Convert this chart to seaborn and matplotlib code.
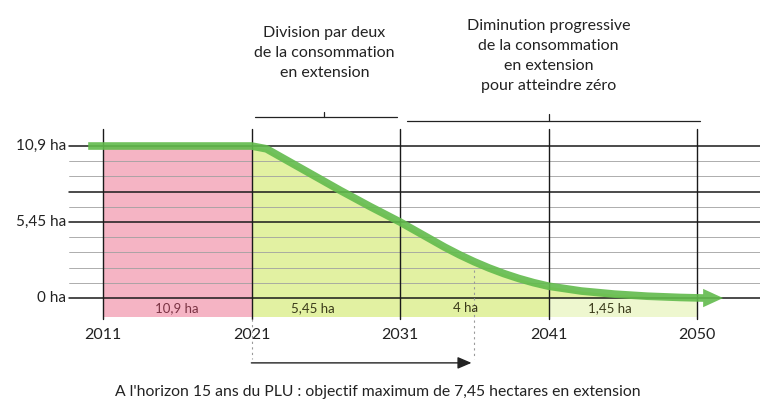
import numpy as np
import matplotlib
matplotlib.use("Agg")
import matplotlib.pyplot as plt
import seaborn as sns

# data
year_ticks = [2011, 2021, 2031, 2041, 2050]
curve_years = [2010, 2021, 2022, 2023, 2025, 2027, 2029, 2031, 2032, 2033, 2034,
               2035, 2036, 2037, 2038, 2039, 2040, 2041, 2043, 2045, 2047, 2049, 2050.4]
curve_ha = [10.9, 10.9, 10.7, 10.1, 8.9, 7.7, 6.55, 5.45, 4.85, 4.25, 3.65,
            3.1, 2.6, 2.15, 1.75, 1.4, 1.1, 0.85, 0.5, 0.28, 0.13, 0.04, 0.0]
y_labels = ["0 ha", "5,45 ha", "10,9 ha"]
y_values = [0, 5.45, 10.9]
band_labels = ["10,9 ha", "5,45 ha", "4 ha", "1,45 ha"]
band_years = [2016, 2025.1, 2035.4, 2044.7]
horizon_year = 2036
text_phase1 = "Division par deux\nde la consommation\nen extension"
text_phase2 = "Diminution progressive\nde la consommation\nen extension\npour atteindre zéro"
caption = "A l'horizon 15 ans du PLU : objectif maximum de 7,45 hectares en extension"

sns.set_theme(style="white")
plt.rcParams['font.family'] = ['Lato', 'DejaVu Sans']

ink = "#222222"
green = "#62bb4c"
fill_green = "#e2f1a2"
pink = "#f5b4c4"

# the ticks are evenly spaced even though 2041-2050 is only 9 years
tick_pos = np.arange(len(year_ticks))
def pos(y):
    y = np.asarray(y, dtype=float)
    return np.where(y < 2011, (y - 2011) / 10,
                    np.where(y > 2050, 4 + (y - 2050) / 9,
                             np.interp(y, year_ticks, tick_pos)))

fig = plt.figure(figsize=(7.6, 4.05), dpi=100)
ax = fig.add_axes([0, 0, 1, 1])
ax.set_xlim(-0.694, 4.424)
ax.set_ylim(-7.67, 21.37)
ax.axis("off")

cx = pos(curve_years)
cy = np.array(curve_ha)

# pink block and green area under the curve
ax.fill_between([0, 1], 0, 10.9, color=pink, lw=0, zorder=1)
m = cx >= 1
ax.fill_between(cx[m], 0, cy[m], color=fill_green, lw=0, zorder=1)

# band under the axis
ax.fill_between([0, 1], -1.35, 0, color=pink, lw=0, zorder=1)
ax.fill_between([1, 3], -1.35, 0, color=fill_green, lw=0, zorder=1)
ax.fill_between([3, 4], -1.35, 0, color="#eef7cf", lw=0, zorder=1)
for lab, yr in zip(band_labels, band_years):
    ax.text(pos(yr), -0.7, lab, ha="center", va="center", fontsize=9.5,
            color="#7a3344" if yr < 2021 else "#3a3a1a", zorder=4)

# horizontal grid
levels = np.linspace(0, 10.9, 11)
for k, lv in enumerate(levels):
    if k in (0, 5, 7, 10):
        ax.plot([-0.23, 4.424], [lv, lv], color="#1a1a1a", lw=1.1, zorder=2)
    else:
        ax.plot([-0.23, 4.424], [lv, lv], color="#a0a0a0", lw=0.6, zorder=2)

# vertical lines
for p in tick_pos:
    ax.plot([p, p], [12.1, -1.5], color="#1a1a1a", lw=1.0, zorder=2)

# y labels
for lab, v in zip(y_labels, y_values):
    ax.text(-0.25, v, lab, ha="right", va="center", fontsize=11, color=ink)

# year labels
for p, yr in zip(tick_pos, year_ticks):
    ax.text(p, -2.65, str(yr), ha="center", va="center", fontsize=11.5, color=ink)

# curve
sns.lineplot(x=cx, y=cy, ax=ax, color=green, lw=5.5, sort=False, alpha=0.9, zorder=5)
ax.lines[-1].set_solid_capstyle("butt")
ax.lines[-1].set_solid_joinstyle("round")
ax.annotate("", xy=(cx[-1] + 0.15, 0), xytext=(cx[-1] - 0.02, 0.0),
            arrowprops=dict(arrowstyle="-|>,head_length=1.2,head_width=0.55",
                            color=green, lw=0, alpha=0.9), zorder=5)

# brackets + phase texts
ax.plot([1.02, 1.98], [12.95, 12.95], color=ink, lw=0.9)
ax.plot([1.49, 1.49], [12.95, 13.35], color=ink, lw=0.9)
ax.plot([2.05, 4.02], [12.7, 12.7], color=ink, lw=0.9)
ax.plot([3.0, 3.0], [12.7, 13.2], color=ink, lw=0.9)
ax.text(1.49, 17.6, text_phase1, ha="center", va="center", fontsize=11.5,
        color=ink, linespacing=1.55)
ax.text(3.0, 17.35, text_phase2, ha="center", va="center", fontsize=11.5,
        color=ink, linespacing=1.55)

# 15-year horizon
hp = pos(horizon_year)
ax.plot([hp, hp], [2.0, -4.4], color="#999999", lw=0.8, ls=(0, (2, 3)), zorder=3)
ax.plot([1.0, 1.0], [-1.5, -4.4], color="#999999", lw=0.8, ls=(0, (2, 3)), zorder=3)
ax.annotate("", xy=(hp, -4.65), xytext=(0.98, -4.65),
            arrowprops=dict(arrowstyle="-|>,head_length=0.7,head_width=0.3",
                            color=ink, lw=1.0))
ax.text(1.85, -6.75, caption, ha="center", va="center", fontsize=11.3, color=ink)

fig.savefig("out.png", dpi=100)
